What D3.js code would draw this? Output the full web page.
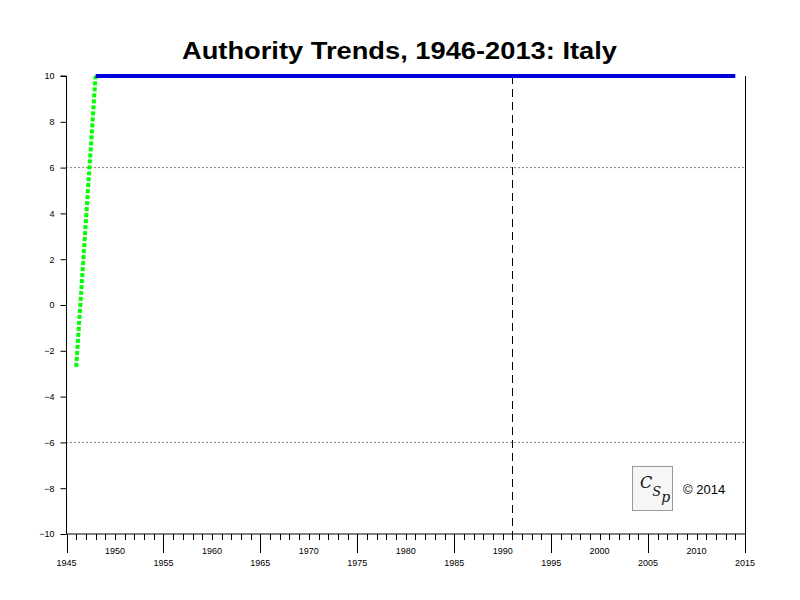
<!DOCTYPE html>
<html><head><meta charset="utf-8">
<script src="https://cdn.jsdelivr.net/npm/d3@7"></script>
<style>body{margin:0;background:#fff}</style>
</head><body>
<svg id="c" width="800" height="600"></svg>
<script>
const transitionYears = [1946, 1948];
const transitionValues = [-2.7, 10];
const democracyYears = [1948, 2014];
const democracyValues = [10, 10];
const yTicks = [-10, -8, -6, -4, -2, 0, 2, 4, 6, 8, 10];
const xLabelYears = [1945, 1950, 1955, 1960, 1965, 1970, 1975, 1980, 1985, 1990, 1995, 2000, 2005, 2010, 2015];
const refLines = [-6, 6];
const markerYear = 1991;
const titleText = "Authority Trends, 1946-2013: Italy";

const svg = d3.select("#c");
const x = d3.scaleLinear().domain([1945, 2015]).range([66.5, 745]);
const y = d3.scaleLinear().domain([-10, 10]).range([534, 76]);

svg.append("text").attr("x", 182).attr("y", 59)
  .attr("font-family", "Liberation Sans, Arial, sans-serif").attr("font-weight", "bold")
  .attr("font-size", 23).attr("textLength", 435).attr("lengthAdjust", "spacingAndGlyphs").text(titleText);

// reference dotted lines
svg.selectAll(".ref").data(refLines).enter().append("line")
  .attr("x1", x(1945)).attr("x2", x(2015)).attr("y1", d => y(d)).attr("y2", d => y(d))
  .attr("stroke", "#000").attr("stroke-width", 1).attr("stroke-dasharray", "1,3");

// marker dashed
svg.append("line").attr("x1", Math.round(x(markerYear)) + 0.5).attr("x2", Math.round(x(markerYear)) + 0.5)
  .attr("y1", y(10)).attr("y2", y(-10)).attr("stroke", "#000").attr("stroke-dasharray", "8,5");

// axes
const yAxis = d3.axisLeft(y).tickValues(yTicks).tickSize(6).tickPadding(6).tickFormat(d3.format("d"));
const gy = svg.append("g").attr("transform", "translate(66.5,0)").call(yAxis);
gy.select(".domain").attr("d", `M-6,${y(10)}H0V${y(-10)}`);
gy.selectAll("text").attr("font-family", "Liberation Sans, Arial, sans-serif").attr("font-size", 9);

// right axis line
svg.append("line").attr("x1", 745.5).attr("x2", 745.5).attr("y1", y(10)).attr("y2", y(-10)).attr("stroke", "#000");

const gx = svg.append("g").attr("transform", `translate(0,${y(-10)})`);
gx.append("line").attr("x1", x(1945)).attr("x2", x(2015)).attr("stroke", "#000");
const years = d3.range(1945, 2016);
gx.selectAll(".t").data(years).enter().append("line")
  .attr("x1", d => Math.round(x(d)) + 0.5).attr("x2", d => Math.round(x(d)) + 0.5)
  .attr("y1", 0).attr("y2", d => (d % 10 === 5) ? 19 : 6).attr("stroke", "#000");
gx.selectAll(".l").data(xLabelYears).enter().append("text")
  .attr("x", d => x(d)).attr("y", d => (d % 10 === 5) ? 32 : 20)
  .attr("text-anchor", "middle").attr("font-family", "Liberation Sans, Arial, sans-serif")
  .attr("font-size", 9).text(d => d);

// data lines
const line = d3.line().x(d => x(d[0])).y(d => y(d[1]));
svg.append("path").datum(transitionYears.map((d, i) => [d, transitionValues[i]]))
  .attr("d", line).attr("fill", "none").attr("stroke", "#00ff00").attr("stroke-width", 4)
  .attr("stroke-dasharray", "4,2");
svg.append("path").datum(democracyYears.map((d, i) => [d, democracyValues[i]]))
  .attr("d", line).attr("fill", "none").attr("stroke", "#0000dd").attr("stroke-width", 4);

// logo
svg.append("rect").attr("x", 632.5).attr("y", 466.5).attr("width", 40).attr("height", 44)
  .attr("fill", "#f6f6f6").attr("stroke", "#999");
const lt = svg.append("text").attr("x", 640).attr("y", 488)
  .attr("font-family", "DejaVu Serif, serif").attr("font-style", "italic").attr("fill", "#111").attr("font-size", 16);
lt.append("tspan").text("C");
lt.append("tspan").attr("dy", 8).attr("font-size", 13).text("S");
lt.append("tspan").attr("dy", 6).attr("font-size", 14).text("p");
svg.append("text").attr("x", 683).attr("y", 494).attr("font-family", "Liberation Sans, Arial, sans-serif")
  .attr("font-size", 13).text("© 2014");
</script>
</body></html>
